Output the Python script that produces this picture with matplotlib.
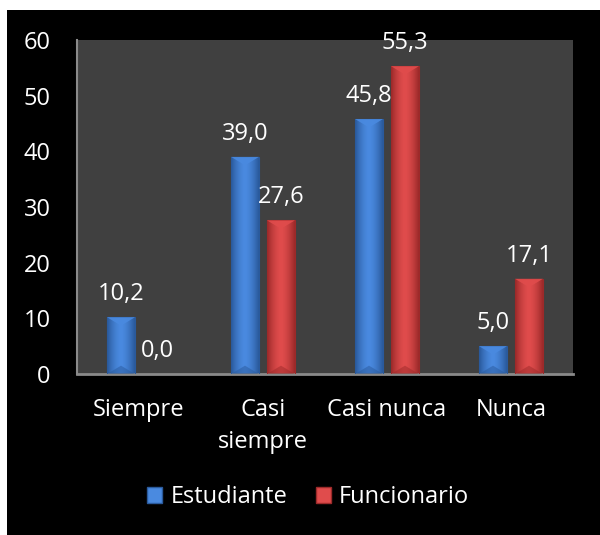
import numpy as np
import matplotlib
matplotlib.use('Agg')
import matplotlib.pyplot as plt
from matplotlib.patches import Rectangle, Polygon

categorias = ['Siempre', 'Casi\nsiempre', 'Casi nunca', 'Nunca']
estudiante = [10.2, 39.0, 45.8, 5.0]
funcionario = [0.0, 27.6, 55.3, 17.1]
series = ['Estudiante', 'Funcionario']

azul = ('#2a5a9c', '#4a8ae0')
rojo = ('#9c2a2a', '#e04c4c')

plt.rcParams['font.family'] = ['Open Sans', 'DejaVu Sans']
fs = 17

fig = plt.figure(figsize=(6, 5.35), dpi=100)
fig.patch.set_facecolor('black')
# franjas blancas arriba e izquierda
fig.patches.append(Rectangle((0, 0), 7 / 600, 1, transform=fig.transFigure,
                             facecolor='white', edgecolor='none', zorder=-10))
fig.patches.append(Rectangle((0, 1 - 10 / 535), 1, 10 / 535, transform=fig.transFigure,
                             facecolor='white', edgecolor='none', zorder=-10))

ax = fig.add_axes([77 / 600, 1 - 374 / 535, 496 / 600, 334 / 535])
ax.set_facecolor('#404040')

x = np.arange(len(categorias))
ancho = 0.225
desp = 0.145


def barra_3d(ax, xc, h, colores):
    oscuro, claro = colores
    if h <= 0:
        return
    x0, x1 = xc - ancho / 2, xc + ancho / 2
    # degradado horizontal: bordes oscuros, centro claro
    grad = np.abs(np.linspace(-1, 1, 64)) ** 1.6
    cmap = matplotlib.colors.LinearSegmentedColormap.from_list('b', [claro, oscuro])
    im = ax.imshow(grad[np.newaxis, :], cmap=cmap, aspect='auto', extent=(x0, x1, 0, h),
                   zorder=2, interpolation='bicubic')
    rect = Rectangle((x0, 0), ancho, h, transform=ax.transData)
    im.set_clip_path(rect)
    ax.add_patch(Rectangle((x0, 0), ancho, h, facecolor='none', edgecolor=oscuro,
                           linewidth=0.8, zorder=3))
    bisel = min(1.5, h / 2)
    ax.add_patch(Polygon([(x0, h), (x1, h), (xc, h - bisel)], closed=True,
                         facecolor=claro, edgecolor='none', alpha=0.9, zorder=3))
    ax.add_patch(Polygon([(x0, 0), (x1, 0), (xc, bisel)], closed=True,
                         facecolor=oscuro, edgecolor='none', alpha=0.5, zorder=3))


for i in range(len(categorias)):
    barra_3d(ax, x[i] - desp, estudiante[i], azul)
    barra_3d(ax, x[i] + desp, funcionario[i], rojo)
    for xc, v in ((x[i] - desp, estudiante[i]), (x[i] + desp, funcionario[i])):
        ax.annotate(f'{v:.1f}'.replace('.', ','), (xc, v), xytext=(0, 8),
                    textcoords='offset points', ha='center', va='bottom',
                    color='white', fontsize=fs)

ax.set_xlim(-0.5, 3.5)
ax.set_ylim(0, 60)
ax.set_yticks(range(0, 61, 10))
ax.set_xticks(x)
ax.set_xticklabels(categorias, linespacing=1.45)
ax.tick_params(axis='both', colors='white', labelsize=fs, length=0)
ax.tick_params(axis='y', pad=19)
ax.tick_params(axis='x', pad=17)
for s in ('top', 'right'):
    ax.spines[s].set_visible(False)
ax.spines['left'].set_color('#8a8a8a')
ax.spines['bottom'].set_color('#8a8a8a')
ax.spines['left'].set_linewidth(1.5)
ax.spines['bottom'].set_linewidth(2)

handles = [Rectangle((0, 0), 1, 1, facecolor=azul[1], edgecolor=azul[0]),
           Rectangle((0, 0), 1, 1, facecolor=rojo[1], edgecolor=rojo[0])]
leg = fig.legend(handles, series, loc='center', bbox_to_anchor=(308 / 600, 1 - 497 / 535),
                 ncol=2, frameon=False, fontsize=fs, handlelength=0.64, handleheight=0.64,
                 handletextpad=0.35, columnspacing=1.2, borderpad=0)
for t in leg.get_texts():
    t.set_color('white')

fig.savefig('out.png', dpi=100, facecolor=fig.get_facecolor())
